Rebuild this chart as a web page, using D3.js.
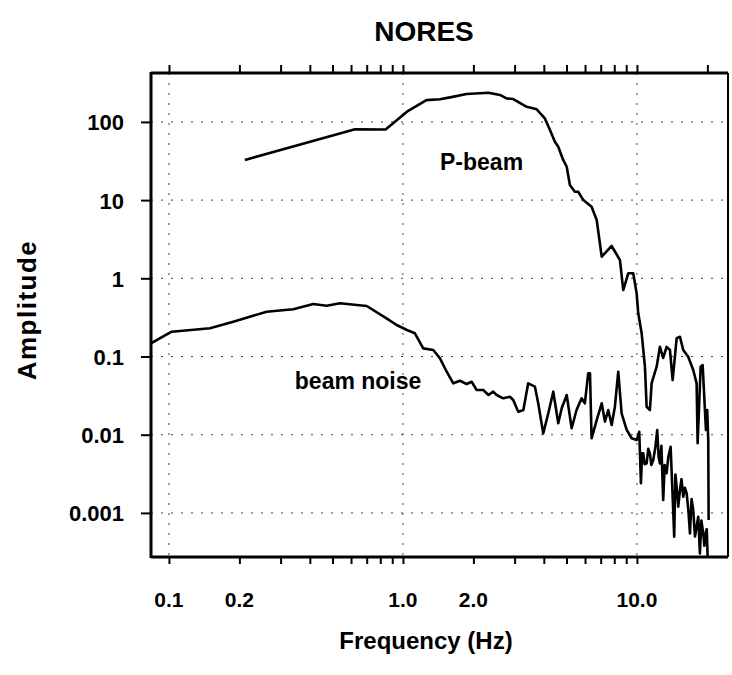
<!DOCTYPE html>
<html>
<head>
<meta charset="utf-8">
<script src="https://cdn.jsdelivr.net/npm/d3@7/dist/d3.min.js"></script>
<style>
  html, body { margin: 0; padding: 0; background: #fff; }
  svg { display: block; }
  text { font-family: "Liberation Sans", Arial, Helvetica, sans-serif; font-weight: bold; fill: #000; }
</style>
</head>
<body>
<svg id="chart" width="732" height="675"></svg>
<script>
// ---- Data ----
const title = "NORES";
const xLabel = "Frequency (Hz)";
const yLabel = "Amplitude";

const pBeamFreq = [0.211, 0.624, 0.843, 1.04, 1.26, 1.44, 1.59, 1.87, 2.32, 2.60, 2.77, 2.96, 3.38, 3.73, 4.04, 4.25, 4.46, 4.61, 4.84, 5.01, 5.17, 5.43, 5.61, 5.90, 6.40, 6.73, 7.07, 7.80, 8.46, 8.74, 9.18, 9.64, 9.97, 10.13, 10.30, 10.47, 10.82, 11.00, 11.36, 11.56, 12.14, 12.54, 12.95, 13.39, 13.84, 14.21, 14.78, 15.27, 15.77, 16.56, 17.40, 17.99, 18.17, 18.72, 19.09, 19.72, 19.97, 20.17, 20.25];
const pBeamAmp  = [32.6, 80.4, 80.0, 135, 190, 195, 206, 227, 236, 221, 200, 196, 156, 145, 111, 78.8, 55.8, 48.2, 32.6, 26.7, 15.6, 12.8, 12.8, 10.0, 8.23, 5.57, 1.89, 2.59, 1.71, 0.708, 1.16, 1.16, 0.643, 0.357, 0.266, 0.20, 0.074, 0.0228, 0.0207, 0.0458, 0.074, 0.133, 0.0957, 0.133, 0.121, 0.050, 0.171, 0.179, 0.121, 0.0994, 0.0672, 0.0454, 0.00776, 0.074, 0.0778, 0.0115, 0.0207, 0.00855, 0.00081];

const noiseFreq = [0.0838, 0.1027, 0.1497, 0.1883, 0.2616, 0.3398, 0.4137, 0.472, 0.538, 0.700, 0.851, 0.940, 1.04, 1.125, 1.221, 1.348, 1.44, 1.538, 1.641, 1.752, 1.87, 1.966, 2.065, 2.204, 2.32, 2.43, 2.514, 2.683, 2.866, 2.96, 3.11, 3.27, 3.43, 3.665, 3.785, 3.977, 4.18, 4.39, 4.61, 4.77, 5.01, 5.26, 5.52, 5.80, 5.99, 6.19, 6.30, 6.40, 6.73, 7.07, 7.30, 7.54, 7.80, 8.05, 8.32, 8.60, 9.04, 9.49, 9.97, 10.23, 10.40, 10.52, 10.64, 10.78, 11.00, 11.18, 11.36, 11.52, 11.74, 11.98, 12.21, 12.38, 12.54, 12.72, 12.95, 13.14, 13.39, 13.62, 13.93, 14.12, 14.43, 14.60, 14.78, 15.02, 15.27, 15.50, 15.77, 16.02, 16.31, 16.58, 16.85, 17.12, 17.40, 17.70, 17.99, 18.28, 18.58, 18.85, 19.20, 19.42, 19.66, 19.88, 20.05];
const noiseAmp  = [0.1475, 0.2075, 0.2296, 0.2786, 0.374, 0.402, 0.469, 0.4466, 0.479, 0.4425, 0.308, 0.253, 0.218, 0.198, 0.127, 0.121, 0.0948, 0.0639, 0.0454, 0.049, 0.0445, 0.0476, 0.0373, 0.0373, 0.0322, 0.0355, 0.0322, 0.0292, 0.0306, 0.0278, 0.0197, 0.0207, 0.0454, 0.0411, 0.0252, 0.0104, 0.0188, 0.0355, 0.014, 0.0218, 0.0322, 0.0121, 0.0207, 0.0292, 0.0252, 0.061, 0.061, 0.009, 0.0154, 0.0252, 0.0147, 0.0207, 0.0133, 0.0228, 0.0639, 0.0188, 0.0115, 0.009, 0.00855, 0.0109, 0.00239, 0.0058, 0.00578, 0.0042, 0.0043, 0.0066, 0.00578, 0.0041, 0.00475, 0.0068, 0.0115, 0.0052, 0.0043, 0.0072, 0.00146, 0.0041, 0.00321, 0.0052, 0.00702, 0.0026, 0.000496, 0.0031, 0.00216, 0.0012, 0.00196, 0.0027, 0.00161, 0.0021, 0.00178, 0.0011, 0.000548, 0.0015, 0.00109, 0.0005, 0.000667, 0.000894, 0.000304, 0.0008, 0.000548, 0.00038, 0.000548, 0.00062, 0.000275];

const yTickValues = [100, 10, 1, 0.1, 0.01, 0.001];
const yTickLabels = ["100", "10", "1", "0.1", "0.01", "0.001"];
const xLabelValues = [0.1, 0.2, 1, 2, 10];
const xTickLabels = ["0.1", "0.2", "1.0", "2.0", "10.0"];
const xBottomTicks = [0.1, 0.2, 0.3, 0.4, 0.5, 0.6, 0.7, 0.8, 0.9, 1, 2, 3, 4, 5, 6, 7, 8, 9, 10];
const xTopTicks = [0.1, 0.2, 0.3, 0.4, 0.5, 0.6, 0.7, 0.8, 0.9, 1, 2, 3, 4, 5, 6, 7, 8, 9, 10, 20];
const xGridValues = [0.1, 1, 10];
const yGridValues = [100, 10, 1, 0.1, 0.01, 0.001];

// ---- Layout ----
const svg = d3.select("#chart");
const L = 151, T = 73, R = 728, B = 557;

const x = d3.scaleLog().domain([0.0838, 24.5]).range([L, R]);
const y = d3.scaleLog().domain([0.000273, 422]).range([B, T]);

svg.append("defs").append("clipPath").attr("id", "clip")
  .append("rect").attr("x", L).attr("y", T).attr("width", R - L).attr("height", B - T);

// grid
const grid = svg.append("g").attr("stroke", "#444").attr("stroke-width", 1).attr("stroke-dasharray", "2,8");
grid.selectAll("line.h").data(yGridValues).join("line").attr("class", "h")
  .attr("x1", L).attr("x2", R).attr("y1", d => y(d)).attr("y2", d => y(d));
grid.selectAll("line.v").data(xGridValues).join("line").attr("class", "v")
  .attr("y1", T).attr("y2", B).attr("x1", d => x(d)).attr("x2", d => x(d));

// axes
const fmt = (vals, labels) => d => labels[vals.indexOf(d)];
const axB = d3.axisBottom(x).tickValues(xBottomTicks).tickSize(7).tickFormat(() => "");
const axT = d3.axisTop(x).tickValues(xTopTicks).tickSize(8).tickFormat(() => "");
const axL = d3.axisLeft(y).tickValues(yTickValues).tickSize(10).tickFormat(fmt(yTickValues, yTickLabels));

const gB = svg.append("g").attr("transform", `translate(0,${B})`).call(axB);
const gT = svg.append("g").attr("transform", `translate(0,${T})`).call(axT);
const gL = svg.append("g").attr("transform", `translate(${L},0)`).call(axL);
[gB, gT, gL].forEach(g => {
  g.select(".domain").remove();
  g.selectAll(".tick line").attr("stroke", "#000").attr("stroke-width", 2);
});
gL.selectAll(".tick text").attr("x", -27).attr("dy", "0.36em").attr("fill", "#000")
  .style("font-size", "22px").style("font-family", "'Liberation Sans', Arial, sans-serif").style("font-weight", "bold");

// bottom labels
svg.append("g").selectAll("text").data(xLabelValues).join("text")
  .attr("x", d => x(d)).attr("y", 607).attr("text-anchor", "middle")
  .style("font-size", "21px")
  .text(fmt(xLabelValues, xTickLabels));

// frame
svg.append("line").attr("x1", L).attr("x2", L).attr("y1", T - 1).attr("y2", B + 1).attr("stroke", "#000").attr("stroke-width", 3);
svg.append("line").attr("x1", L).attr("x2", R).attr("y1", T).attr("y2", T).attr("stroke", "#000").attr("stroke-width", 3);
svg.append("line").attr("x1", L).attr("x2", R).attr("y1", B).attr("y2", B).attr("stroke", "#000").attr("stroke-width", 3);
svg.append("line").attr("x1", R).attr("x2", R).attr("y1", T).attr("y2", B).attr("stroke", "#000").attr("stroke-width", 2);

// curves
const line = d3.line().x(d => x(d[0])).y(d => y(d[1]));
const plot = svg.append("g").attr("clip-path", "url(#clip)");
plot.append("path").datum(d3.zip(pBeamFreq, pBeamAmp)).attr("d", line)
  .attr("fill", "none").attr("stroke", "#000").attr("stroke-width", 2.6).attr("stroke-linejoin", "round");
plot.append("path").datum(d3.zip(noiseFreq, noiseAmp)).attr("d", line)
  .attr("fill", "none").attr("stroke", "#000").attr("stroke-width", 2.6).attr("stroke-linejoin", "round");

// series labels
svg.append("text").attr("x", x(1.44)).attr("y", 170).style("font-size", "23px").text("P-beam");
svg.append("text").attr("x", x(0.345)).attr("y", 389).style("font-size", "23px").text("beam noise");

// titles
svg.append("text").attr("x", 424).attr("y", 41).attr("text-anchor", "middle").style("font-size", "28px").text(title);
svg.append("text").attr("x", 426).attr("y", 649).attr("text-anchor", "middle").style("font-size", "24px").text(xLabel);
svg.append("text").attr("transform", "translate(36,310) rotate(-90)").attr("text-anchor", "middle")
  .style("font-size", "26px").style("letter-spacing", "1.5px").text(yLabel);
</script>
</body>
</html>
